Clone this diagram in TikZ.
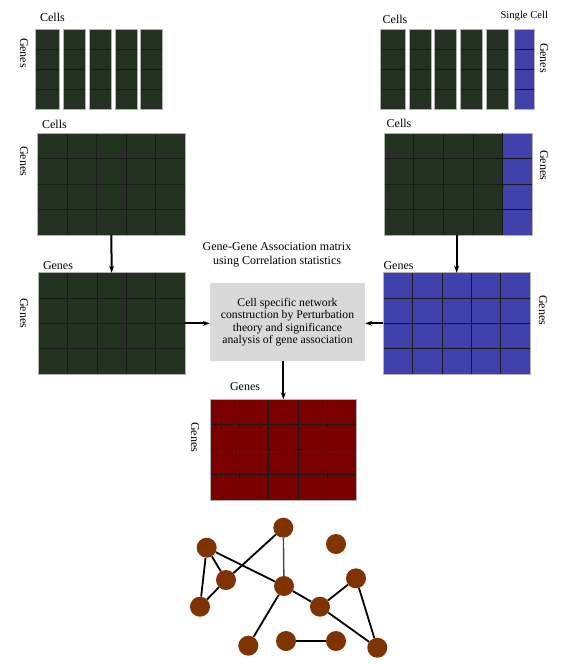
\documentclass[tikz,border=0pt]{standalone}
\usepackage{fontspec}
\setmainfont{Liberation Serif}
\usetikzlibrary{arrows.meta,calc}
\definecolor{dkgreen}{HTML}{233220}
\definecolor{cellblue}{HTML}{4141AC}
\definecolor{cellred}{HTML}{7A0000}
\definecolor{nodebrown}{HTML}{7F3300}
\definecolor{boxgray}{HTML}{D9D9D9}
\definecolor{edgepurple}{HTML}{4A3A80}
\begin{document}
\begin{tikzpicture}[x=1pt,y=-1pt,
  font=\fontsize{12}{13.4}\selectfont,
  gridline/.style={draw=black!90, line width=0.9pt},
  cellbox/.style={draw=gray!60, line width=0.5pt, anchor=north west, inner sep=0pt, outer sep=0pt},
  rows4/.style={path picture={
    \foreach \j in {1,2,3}{\draw[gridline]
      ($(path picture bounding box.north west)!\j/4!(path picture bounding box.south west)$) --
      ($(path picture bounding box.north east)!\j/4!(path picture bounding box.south east)$);}}},
  grid54/.style={path picture={
    \foreach \j in {1,2,3}{\draw[gridline]
      ($(path picture bounding box.north west)!\j/4!(path picture bounding box.south west)$) --
      ($(path picture bounding box.north east)!\j/4!(path picture bounding box.south east)$);}
    \foreach \i in {1,2,3,4}{\draw[gridline]
      ($(path picture bounding box.north west)!\i/5!(path picture bounding box.north east)$) --
      ($(path picture bounding box.south west)!\i/5!(path picture bounding box.south east)$);}}},
  lbl/.style={inner sep=0pt},
  vlbl/.style={inner sep=0pt, rotate=-90},
  arr/.style={line width=2pt, -{Stealth[length=7pt,width=5pt]}},
  gnode/.style={circle, fill=nodebrown, minimum size=20pt, inner sep=0pt},
  gedge/.style={line width=1.8pt, black}
]
\useasboundingbox (0,0) rectangle (565,664);
\fill[white] (0,0) rectangle (565,664);

% ---- top-left strips
\foreach \x/\w [count=\k] in {35/24.3, 63.3/22, 89/22, 115/22, 140.7/22}
  \node[cellbox, rows4, fill=dkgreen, minimum width=\w, minimum height=80] (s\k) at (\x,29) {};
\node[lbl] (tlcells) at (52.5,17) {Cells};
\node[vlbl] (tlgenes) at (24,53) {Genes};

% ---- top-right strips
\foreach \x/\w [count=\k] in {380.7/24.3, 409/22, 434.7/22, 460.7/22, 486.7/21.3}
  \node[cellbox, rows4, fill=dkgreen, minimum width=\w, minimum height=80] (t\k) at (\x,29) {};
\node[cellbox, rows4, fill=cellblue, minimum width=20.7, minimum height=80] (t6) at (514,29) {};
\node[lbl] (trcells) at (395,19) {Cells};
\node[lbl, font=\fontsize{10.6}{12}\selectfont] (single) at (524.3,16) {Single Cell};
\node[vlbl] (trgenes) at (544,58) {Genes};

% ---- middle matrices
\node[cellbox, grid54, fill=dkgreen, minimum width=147.3, minimum height=101.7] (ml) at (37.7,133.3) {};
\node[lbl] (mlcells) at (54.5,124) {Cells};
\node[vlbl] (mlgenes) at (24,161) {Genes};

\node[cellbox, grid54, fill=dkgreen, minimum width=148, minimum height=101.7] (mr) at (384.3,133.3) {};
\node[cellbox, rows4, fill=cellblue, minimum width=29.6, minimum height=101.7] (mrb) at (502.7,133.3) {};
\draw[gridline] (mrb.north west) -- (mrb.south west);
\node[lbl] (mrcells) at (399,123) {Cells};
\node[vlbl] (mrgenes) at (544,165) {Genes};

% ---- gene-gene matrices
\node[cellbox, grid54, fill=dkgreen, minimum width=146.7, minimum height=101.3] (lg) at (38.3,272.7) {};
\node[lbl] (lgtop) at (58,266) {Genes};
\node[vlbl] (lgside) at (24,313) {Genes};

\node[cellbox, grid54, fill=cellblue, minimum width=146.7, minimum height=101.3] (rg) at (383.3,272.7) {};
\node[lbl] (rgtop) at (398.5,266) {Genes};
\node[vlbl] (rgside) at (543,310) {Genes};

\node[lbl, align=center] (title) at (277,255) {Gene-Gene Association matrix\\using Correlation statistics};

\node[fill=boxgray, minimum width=155, minimum height=77.4, inner sep=0pt, align=center,
  font=\fontsize{11.7}{12.5}\selectfont] (box) at (287.5,322)
  {Cell specific network\\construction by Perturbation\\theory and significance\\analysis of gene association};

% ---- result matrix
\node[cellbox, grid54, fill=cellred, minimum width=146.7, minimum height=100.7] (red) at (210,399.3) {};
\node[lbl] (redtop) at (245,386.7) {Genes};
\node[vlbl] (redside) at (195,437) {Genes};

% ---- arrows
\draw[arr] (ml.south) -- (lg.north);
\draw[arr] (mr.south -| rg.north) -- (rg.north);
\draw[arr] (lg.east) -- (box.west |- lg.east);
\draw[arr] (rg.west) -- (box.east |- rg.west);
\draw[arr] (red.north |- box.south) -- (red.north);

% ---- network
\node[gnode] (A) at (283.3,527.7) {};
\node[gnode] (B) at (206.7,547.7) {};
\node[gnode] (C) at (336,544) {};
\node[gnode] (D) at (226,580) {};
\node[gnode] (E) at (284,586) {};
\node[gnode] (F) at (200,606.7) {};
\node[gnode] (G) at (356,578.3) {};
\node[gnode] (H) at (320,606.7) {};
\node[gnode] (I) at (248.3,645.7) {};
\node[gnode] (J) at (286,641) {};
\node[gnode] (K) at (336,641) {};
\node[gnode] (L) at (377.3,647.7) {};
\draw[gedge] (B) -- (F);
\draw[gedge] (B) -- (D);
\draw[gedge] (D) -- (F);
\draw[gedge] (D) -- (A);
\draw[gedge] (B) -- (E);
\draw[line width=1.4pt, edgepurple] (A) -- (E);
\draw[gedge] (E) -- (H);
\draw[gedge] (E) -- (I);
\draw[gedge] (H) -- (G);
\draw[gedge] (H) -- (L);
\draw[gedge] (G) -- (L);
\draw[gedge] (J) -- (K);
\end{tikzpicture}
\end{document}
